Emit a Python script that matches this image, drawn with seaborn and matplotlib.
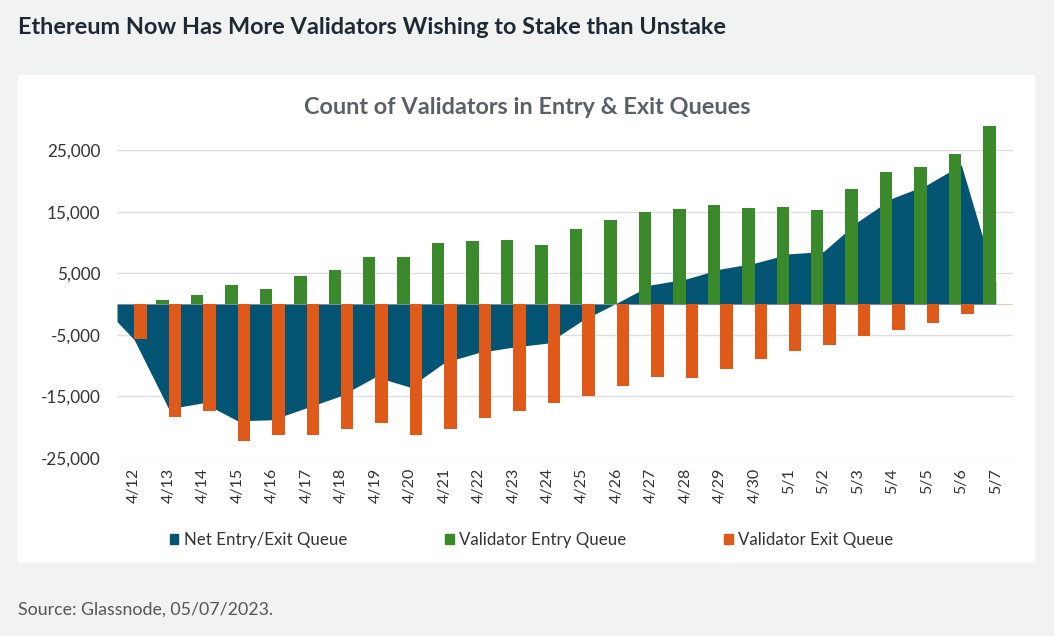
import matplotlib
matplotlib.use("Agg")
import matplotlib.pyplot as plt
import matplotlib.patches as mpatches
import numpy as np
import pandas as pd
import seaborn as sns

# ---------------- data ----------------
dates = ["4/12", "4/13", "4/14", "4/15", "4/16", "4/17", "4/18", "4/19", "4/20",
         "4/21", "4/22", "4/23", "4/24", "4/25", "4/26", "4/27", "4/28", "4/29",
         "4/30", "5/1", "5/2", "5/3", "5/4", "5/5", "5/6", "5/7"]
entry_queue = [0, 680, 1430, 3060, 2460, 4580, 5500, 7620, 7620,
               9890, 10330, 10380, 9620, 12170, 13690, 14930, 15480, 16180,
               15690, 15800, 15260, 18680, 21440, 22360, 24370, 28980]
exit_queue = [-5720, -18350, -17380, -22260, -21230, -21280, -20310, -19410, -21340,
              -20250, -18570, -17480, -16080, -14940, -13370, -11800, -12070, -10550,
              -8980, -7680, -6700, -5180, -4150, -3010, -1650, 0]
net_queue = [-5820, -17050, -16070, -19000, -18830, -16880, -14930, -11840, -13520,
             -9520, -7890, -7010, -6360, -2680, 150, 3120, 4050, 5680,
             6650, 8160, 8540, 13420, 17220, 19390, 22640, 3700]
net_left_edge = -2850  # value where the area meets the left edge of the plot
y_ticks = [-25000, -15000, -5000, 5000, 15000, 25000]

series_names = ["Net Entry/Exit Queue", "Validator Entry Queue", "Validator Exit Queue"]
colors = {"net": "#045573", "entry": "#3a8a2c", "exit": "#df5a19"}

# ---------------- figure ----------------
sns.set_theme(style="white")
plt.rcParams["font.family"] = ["Lato", "DejaVu Sans"]

W, H = 1054, 636
fig = plt.figure(figsize=(W / 100, H / 100), dpi=100, facecolor="#f1f2f2")

# white panel
panel = mpatches.Rectangle((18 / W, 1 - 563 / H), (1035 - 18) / W, (563 - 75) / H,
                           transform=fig.transFigure, facecolor="white",
                           edgecolor="none", zorder=-5)
fig.patches.append(panel)

ax = fig.add_axes([117 / W, 1 - 457.7 / H, (1013 - 117) / W, (457.7 - 119.6) / H])
ax.set_facecolor("none")
ax.set_zorder(1)

long = pd.DataFrame({
    "date": dates * 2,
    "value": entry_queue + exit_queue,
    "series": [series_names[1]] * len(dates) + [series_names[2]] * len(dates),
})
sns.barplot(data=long, x="date", y="value", hue="series", order=dates,
            hue_order=series_names[1:], palette=[colors["entry"], colors["exit"]],
            width=0.725, dodge=True, saturation=1, ax=ax, legend=False, zorder=3,
            linewidth=0)

# area for the net series (drawn beneath bars)
x_area = np.concatenate([[-0.5], np.arange(len(dates))])
y_area = np.concatenate([[net_left_edge], net_queue])
ax.fill_between(x_area, 0, y_area, color=colors["net"], linewidth=0, zorder=2)

ax.axhline(0, color="#f0c4b4", lw=0.8, zorder=1.5)

ax.set_xlim(-0.5, len(dates) - 0.5)
ax.set_ylim(-25000, 30000)
ax.set_yticks(y_ticks)
ax.set_yticklabels([f"{v:,}" for v in y_ticks])
ax.yaxis.grid(True, color="#dedede", lw=1)
ax.set_axisbelow(True)
for s in ax.spines.values():
    s.set_visible(False)
ax.set_xlabel("")
ax.set_ylabel("")
ax.tick_params(axis="y", labelsize=12.3, colors="#333333", pad=12, length=0)
ax.tick_params(axis="x", labelsize=11.5, colors="#333333", rotation=90, pad=7.5, length=0)

# titles and source
fig.text(18 / W, 1 - 27 / H, "Ethereum Now Has More Validators Wishing to Stake than Unstake",
         fontsize=16.9, fontweight="bold", color="#1e2a33", ha="left", va="center")
fig.text(527 / W, 1 - 107 / H, "Count of Validators in Entry & Exit Queues",
         fontsize=16.9, fontweight="bold", color="#5b6068", ha="center", va="center")
fig.text(18 / W, 1 - 610 / H, "Source: Glassnode, 05/07/2023.",
         fontsize=12.8, color="#555555", ha="left", va="center")

# legend
handles = [mpatches.Patch(color=colors["net"], label=series_names[0]),
           mpatches.Patch(color=colors["entry"], label=series_names[1]),
           mpatches.Patch(color=colors["exit"], label=series_names[2])]
fig.legend(handles=handles, loc="center", bbox_to_anchor=(531.5 / W, 1 - 540 / H),
           ncol=3, frameon=False, fontsize=12.2, handlelength=0.5, handleheight=0.5,
           handletextpad=0.3, columnspacing=5.8, labelcolor="#333333")

fig.savefig("out.png", dpi=100, facecolor=fig.get_facecolor())
